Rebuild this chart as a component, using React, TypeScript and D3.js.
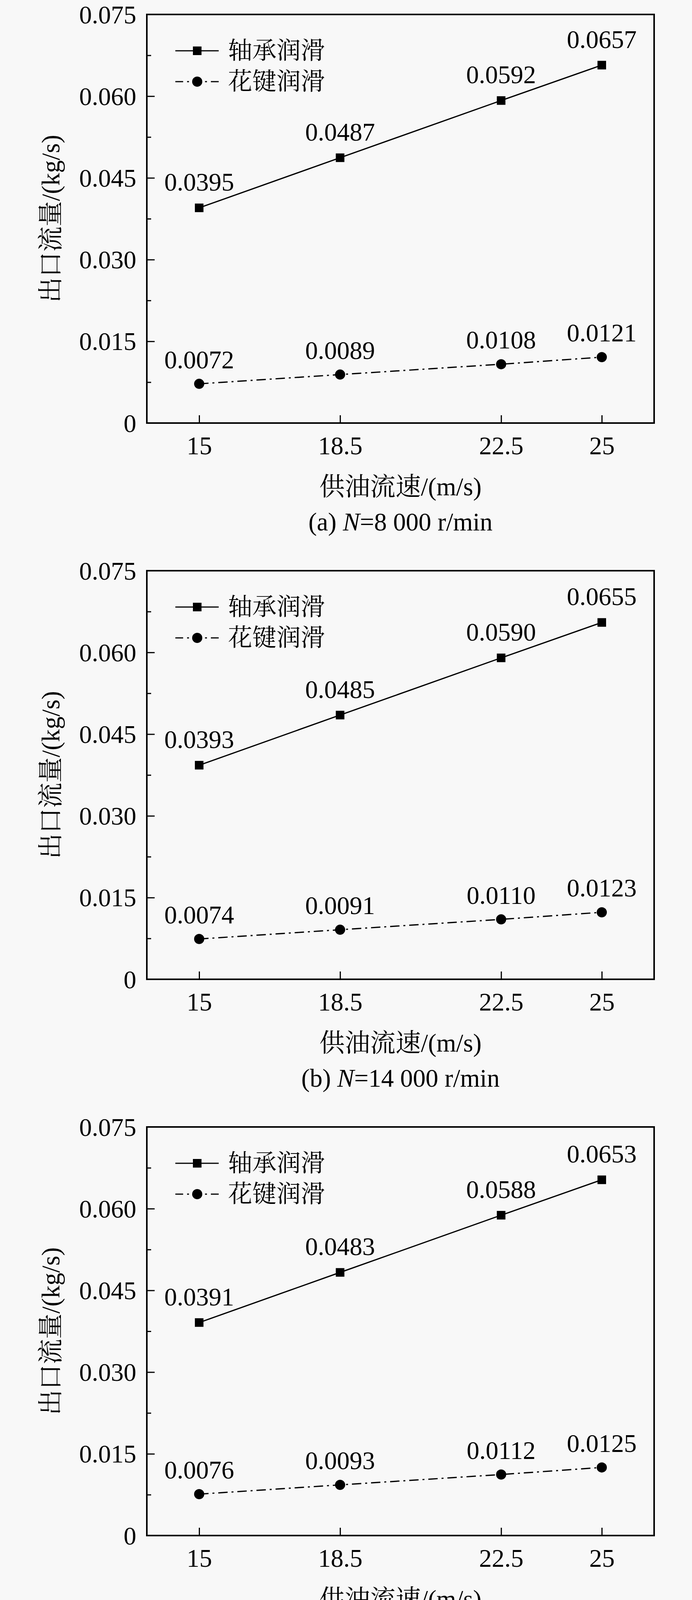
import * as d3 from "d3";
import { useEffect, useRef } from "react";

// x: oil supply velocity (m/s)
const speeds = [15, 18.5, 22.5, 25];
const yTicks = [0, 0.015, 0.03, 0.045, 0.06, 0.075];
const yMinorTicks = [0.0075, 0.0225, 0.0375, 0.0525, 0.0675];

const seriesNames = ["轴承润滑", "花键润滑"];

// outlet flow (kg/s) per panel
const bearingA = [0.0395, 0.0487, 0.0592, 0.0657];
const splineA = [0.0072, 0.0089, 0.0108, 0.0121];
const bearingB = [0.0393, 0.0485, 0.059, 0.0655];
const splineB = [0.0074, 0.0091, 0.011, 0.0123];
const bearingC = [0.0391, 0.0483, 0.0588, 0.0653];
const splineC = [0.0076, 0.0093, 0.0112, 0.0125];

const panelLetters = ["a", "b", "c"];
const panelSpeeds = ["8 000", "14 000", "20 000"];

const xTitle = "供油流速/(m/s)";
const yTitle = "出口流量/(kg/s)";

const W = 1772;
const H = 4235;
const FONT = "'Liberation Serif', 'Times New Roman', 'Noto Serif CJK SC', 'Noto Sans CJK SC', serif";

export default function App() {
  const ref = useRef<SVGSVGElement | null>(null);

  useEffect(() => {
    if (!ref.current) return;
    document.documentElement.style.overflow = "hidden";
    document.body.style.margin = "0";

    const svg = d3.select(ref.current);
    svg.selectAll("*").remove();

    svg.append("rect").attr("width", W).attr("height", H).attr("fill", "#f8f8f8");

    const panels = [
      { bearing: bearingA, spline: splineA },
      { bearing: bearingB, spline: splineB },
      { bearing: bearingC, spline: splineC },
    ];

    const left = 376;
    const right = 1675;
    const plotH = 1046;
    const step = 1424;
    const fmt = d3.format(".4f");
    const yFmt = (d: number) => (d === 0 ? "0" : d3.format(".3f")(d));

    const x = d3.scaleLinear().domain([13.7, 26.3]).range([left, right]);

    panels.forEach((p, i) => {
      const top = 37 + i * step;
      const bottom = top + plotH;
      const y = d3.scaleLinear().domain([0, 0.075]).range([bottom, top]);
      const g = svg.append("g");

      // axes, ticks point inward
      const ya = g
        .append("g")
        .attr("transform", `translate(${left},0)`)
        .call(d3.axisLeft(y).tickValues(yTicks).tickFormat(yFmt as any).tickSize(-20).tickPadding(27));
      const yMinor = g
        .append("g")
        .attr("transform", `translate(${left},0)`)
        .call(d3.axisLeft(y).tickValues(yMinorTicks).tickFormat(() => "").tickSize(-11));
      const xa = g
        .append("g")
        .attr("transform", `translate(0,${bottom})`)
        .call(
          d3
            .axisBottom(x)
            .tickValues(speeds)
            .tickFormat((d: any) => String(d))
            .tickSize(-20)
            .tickPadding(34)
        );

      [ya, yMinor, xa].forEach((a) => {
        a.select(".domain").remove();
        a.attr("font-family", FONT).attr("font-size", 65);
        a.selectAll("line").attr("stroke", "#000").attr("stroke-width", 3);
        a.selectAll("text").attr("fill", "#000");
      });
      ya.selectAll("text").attr("dy", "0.34em");

      g.append("rect")
        .attr("x", left)
        .attr("y", top)
        .attr("width", right - left)
        .attr("height", plotH)
        .attr("fill", "none")
        .attr("stroke", "#000")
        .attr("stroke-width", 4);

      const line = d3
        .line<number>()
        .x((_, j) => x(speeds[j]))
        .y((d) => y(d));

      // bearing series
      g.append("path")
        .attr("d", line(p.bearing))
        .attr("fill", "none")
        .attr("stroke", "#000")
        .attr("stroke-width", 3.2);
      g.selectAll(".sq")
        .data(p.bearing)
        .join("rect")
        .attr("x", (_, j) => x(speeds[j]) - 11)
        .attr("y", (d) => y(d) - 11)
        .attr("width", 22)
        .attr("height", 22)
        .attr("fill", "#000");

      // spline series
      g.append("path")
        .attr("d", line(p.spline))
        .attr("fill", "none")
        .attr("stroke", "#000")
        .attr("stroke-width", 3.2)
        .attr("stroke-dasharray", "24,10,5,10");
      g.selectAll(".ci")
        .data(p.spline)
        .join("circle")
        .attr("cx", (_, j) => x(speeds[j]))
        .attr("cy", (d) => y(d))
        .attr("r", 13)
        .attr("fill", "#000");

      // value labels
      const labels = g.append("g").attr("font-family", FONT).attr("font-size", 65).attr("text-anchor", "middle");
      labels
        .selectAll(".lb")
        .data(p.bearing)
        .join("text")
        .attr("x", (_, j) => x(speeds[j]))
        .attr("y", (d) => y(d) - 44)
        .text((d) => fmt(d));
      labels
        .selectAll(".ls")
        .data(p.spline)
        .join("text")
        .attr("x", (_, j) => x(speeds[j]))
        .attr("y", (d) => y(d) - 40)
        .text((d) => fmt(d));

      // legend
      const lg = g.append("g").attr("transform", `translate(0,${top})`);
      lg.append("line").attr("x1", 449).attr("x2", 560).attr("y1", 93).attr("y2", 93).attr("stroke", "#000").attr("stroke-width", 3.2);
      lg.append("rect").attr("x", 494).attr("y", 82).attr("width", 22).attr("height", 22).attr("fill", "#000");
      [
        [449, 505],
        [560, 505],
      ].forEach(([a, b]) =>
        lg
          .append("line")
          .attr("x1", a)
          .attr("x2", b)
          .attr("y1", 172)
          .attr("y2", 172)
          .attr("stroke", "#000")
          .attr("stroke-width", 3.2)
          .attr("stroke-dasharray", "20,10,5,10")
      );
      lg.append("circle").attr("cx", 505).attr("cy", 172).attr("r", 13).attr("fill", "#000");
      lg.selectAll(".lt")
        .data(seriesNames)
        .join("text")
        .attr("x", 584)
        .attr("y", (_, j) => 93 + j * 79)
        .attr("dominant-baseline", "central")
        .attr("font-family", FONT)
        .attr("font-size", 62)
        .text((d) => d);

      // titles
      g.append("text")
        .attr("transform", `translate(130,${top + plotH / 2}) rotate(-90)`)
        .attr("text-anchor", "middle")
        .attr("dominant-baseline", "central")
        .attr("font-family", FONT)
        .attr("font-size", 65)
        .text(yTitle);
      g.append("text")
        .attr("x", (left + right) / 2)
        .attr("y", bottom + 185)
        .attr("text-anchor", "middle")
        .attr("font-family", FONT)
        .attr("font-size", 65)
        .text(xTitle);
      const cap = g
        .append("text")
        .attr("x", (left + right) / 2)
        .attr("y", bottom + 275)
        .attr("text-anchor", "middle")
        .attr("font-family", FONT)
        .attr("font-size", 65)
        .style("white-space", "pre");
      cap.append("tspan").text(`(${panelLetters[i]}) `);
      cap.append("tspan").attr("font-style", "italic").text("N");
      cap.append("tspan").text(`=${panelSpeeds[i]} r/min`);
    });
  }, []);

  return (
    <svg
      ref={ref}
      width={W}
      height={H}
      viewBox={`0 0 ${W} ${H}`}
      style={{ position: "absolute", left: 0, top: 0, display: "block" }}
    />
  );
}
